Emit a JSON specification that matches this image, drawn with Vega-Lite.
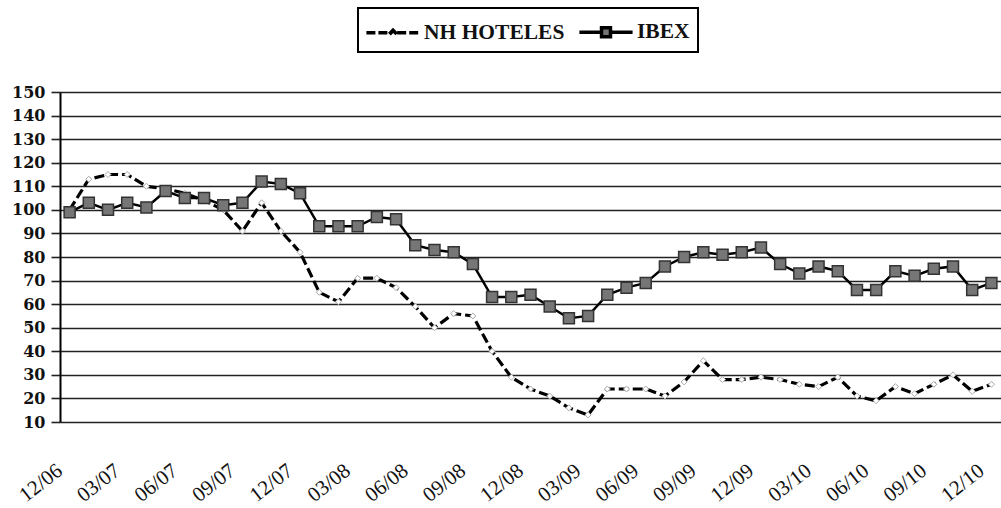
{
  "$schema": "https://vega.github.io/schema/vega-lite/v6.json",
  "width": 941,
  "height": 330,
  "autosize": "none",
  "padding": {"left": 60, "top": 92, "right": 0, "bottom": 86},
  "background": "white",
  "config": {
    "view": {"stroke": null},
    "font": "Liberation Serif",
    "legend": {"strokeWidth": 2}
  },
  "data": {
    "values": [
      {"m":"12/06","s":"NH HOTELES","v":100},{"m":"01/07","s":"NH HOTELES","v":113},{"m":"02/07","s":"NH HOTELES","v":115},{"m":"03/07","s":"NH HOTELES","v":115},
      {"m":"04/07","s":"NH HOTELES","v":110},{"m":"05/07","s":"NH HOTELES","v":109},{"m":"06/07","s":"NH HOTELES","v":107},{"m":"07/07","s":"NH HOTELES","v":104},
      {"m":"08/07","s":"NH HOTELES","v":100},{"m":"09/07","s":"NH HOTELES","v":91},{"m":"10/07","s":"NH HOTELES","v":103},{"m":"11/07","s":"NH HOTELES","v":91},
      {"m":"12/07","s":"NH HOTELES","v":82},{"m":"01/08","s":"NH HOTELES","v":65},{"m":"02/08","s":"NH HOTELES","v":61},{"m":"03/08","s":"NH HOTELES","v":71},
      {"m":"04/08","s":"NH HOTELES","v":71},{"m":"05/08","s":"NH HOTELES","v":67},{"m":"06/08","s":"NH HOTELES","v":59},{"m":"07/08","s":"NH HOTELES","v":50},
      {"m":"08/08","s":"NH HOTELES","v":56},{"m":"09/08","s":"NH HOTELES","v":55},{"m":"10/08","s":"NH HOTELES","v":40},{"m":"11/08","s":"NH HOTELES","v":29},
      {"m":"12/08","s":"NH HOTELES","v":24},{"m":"01/09","s":"NH HOTELES","v":21},{"m":"02/09","s":"NH HOTELES","v":16},{"m":"03/09","s":"NH HOTELES","v":13},
      {"m":"04/09","s":"NH HOTELES","v":24},{"m":"05/09","s":"NH HOTELES","v":24},{"m":"06/09","s":"NH HOTELES","v":24},{"m":"07/09","s":"NH HOTELES","v":21},
      {"m":"08/09","s":"NH HOTELES","v":27},{"m":"09/09","s":"NH HOTELES","v":36},{"m":"10/09","s":"NH HOTELES","v":28},{"m":"11/09","s":"NH HOTELES","v":28},
      {"m":"12/09","s":"NH HOTELES","v":29},{"m":"01/10","s":"NH HOTELES","v":28},{"m":"02/10","s":"NH HOTELES","v":26},{"m":"03/10","s":"NH HOTELES","v":25},
      {"m":"04/10","s":"NH HOTELES","v":29},{"m":"05/10","s":"NH HOTELES","v":21},{"m":"06/10","s":"NH HOTELES","v":19},{"m":"07/10","s":"NH HOTELES","v":25},
      {"m":"08/10","s":"NH HOTELES","v":22},{"m":"09/10","s":"NH HOTELES","v":26},{"m":"10/10","s":"NH HOTELES","v":30},{"m":"11/10","s":"NH HOTELES","v":23},
      {"m":"12/10","s":"NH HOTELES","v":26},
      {"m":"12/06","s":"IBEX","v":99},{"m":"01/07","s":"IBEX","v":103},{"m":"02/07","s":"IBEX","v":100},{"m":"03/07","s":"IBEX","v":103},
      {"m":"04/07","s":"IBEX","v":101},{"m":"05/07","s":"IBEX","v":108},{"m":"06/07","s":"IBEX","v":105},{"m":"07/07","s":"IBEX","v":105},
      {"m":"08/07","s":"IBEX","v":102},{"m":"09/07","s":"IBEX","v":103},{"m":"10/07","s":"IBEX","v":112},{"m":"11/07","s":"IBEX","v":111},
      {"m":"12/07","s":"IBEX","v":107},{"m":"01/08","s":"IBEX","v":93},{"m":"02/08","s":"IBEX","v":93},{"m":"03/08","s":"IBEX","v":93},
      {"m":"04/08","s":"IBEX","v":97},{"m":"05/08","s":"IBEX","v":96},{"m":"06/08","s":"IBEX","v":85},{"m":"07/08","s":"IBEX","v":83},
      {"m":"08/08","s":"IBEX","v":82},{"m":"09/08","s":"IBEX","v":77},{"m":"10/08","s":"IBEX","v":63},{"m":"11/08","s":"IBEX","v":63},
      {"m":"12/08","s":"IBEX","v":64},{"m":"01/09","s":"IBEX","v":59},{"m":"02/09","s":"IBEX","v":54},{"m":"03/09","s":"IBEX","v":55},
      {"m":"04/09","s":"IBEX","v":64},{"m":"05/09","s":"IBEX","v":67},{"m":"06/09","s":"IBEX","v":69},{"m":"07/09","s":"IBEX","v":76},
      {"m":"08/09","s":"IBEX","v":80},{"m":"09/09","s":"IBEX","v":82},{"m":"10/09","s":"IBEX","v":81},{"m":"11/09","s":"IBEX","v":82},
      {"m":"12/09","s":"IBEX","v":84},{"m":"01/10","s":"IBEX","v":77},{"m":"02/10","s":"IBEX","v":73},{"m":"03/10","s":"IBEX","v":76},
      {"m":"04/10","s":"IBEX","v":74},{"m":"05/10","s":"IBEX","v":66},{"m":"06/10","s":"IBEX","v":66},{"m":"07/10","s":"IBEX","v":74},
      {"m":"08/10","s":"IBEX","v":72},{"m":"09/10","s":"IBEX","v":75},{"m":"10/10","s":"IBEX","v":76},{"m":"11/10","s":"IBEX","v":66},
      {"m":"12/10","s":"IBEX","v":69}
    ]
  },
  "encoding": {
    "x": {
      "field": "m", "type": "ordinal", "sort": null,
      "scale": {"type": "point", "padding": 0.5},
      "axis": {
        "title": null, "domain": false, "ticks": false, "grid": false,
        "values": ["12/06","03/07","06/07","09/07","12/07","03/08","06/08","09/08","12/08","03/09","06/09","09/09","12/09","03/10","06/10","09/10","12/10"],
        "labelAngle": -38, "labelAlign": "right", "labelBaseline": "middle",
        "labelPadding": 46, "labelOffset": -10,
        "labelFont": "Liberation Serif", "labelFontSize": 21, "labelColor": "#111"
      }
    },
    "y": {
      "field": "v", "type": "quantitative",
      "scale": {"domain": [10, 150], "nice": false, "zero": false},
      "axis": {
        "title": null, "values": [10,20,30,40,50,60,70,80,90,100,110,120,130,140,150],
        "grid": true, "gridColor": "#222", "gridWidth": 1.6,
        "domain": true, "domainColor": "#000", "domainWidth": 2,
        "ticks": true, "tickSize": 9, "tickColor": "#222", "tickWidth": 1.6,
        "labelPadding": 6, "labelFont": "DejaVu Serif", "labelFontWeight": "bold",
        "labelFontSize": 16, "labelColor": "#111"
      }
    }
  },
  "layer": [
    {
      "transform": [{"filter": "datum.s === 'NH HOTELES'"}],
      "mark": {"type": "line", "color": "#000", "strokeWidth": 3.2, "strokeDash": [10, 4]}
    },
    {
      "transform": [{"filter": "datum.s === 'NH HOTELES'"}],
      "mark": {"type": "point", "shape": "diamond", "size": 36, "filled": true, "fill": "#fff", "stroke": "#aaa", "strokeWidth": 1, "opacity": 1}
    },
    {
      "transform": [{"filter": "datum.s === 'IBEX'"}],
      "mark": {"type": "line", "color": "#000", "strokeWidth": 2.5}
    },
    {
      "transform": [{"filter": "datum.s === 'IBEX'"}],
      "mark": {"type": "point", "shape": "square", "size": 121, "filled": true, "fill": "#767676", "stroke": "#333", "strokeWidth": 1.5, "opacity": 1}
    },
    {
      "mark": {"type": "point", "filled": true, "opacity": 0, "stroke": "#000", "strokeWidth": 3.5},
      "encoding": {
        "shape": {
          "field": "s", "type": "nominal",
          "scale": {"domain": ["NH HOTELES", "IBEX"], "range": [
            "M-1.9,0H-0.3M-0.18,0L0,-0.18L0.18,0L0,0.18ZM0.3,0H1.9",
            "M-1.9,0H-0.32M-0.32,-0.32H0.32V0.32H-0.32ZM0.32,0H1.9"
          ]},
          "legend": {
            "title": null, "orient": "none", "direction": "horizontal",
            "legendX": 298, "legendY": -84,
            "strokeColor": "#000", "padding": 8,
            "symbolSize": 784, "symbolOffset": 11, "symbolOpacity": 1,
            "symbolStrokeColor": "#000", "symbolStrokeWidth": 3.5,
            "labelFont": "Liberation Serif", "labelFontWeight": "bold", "labelFontSize": 21.5,
            "labelColor": "#111", "labelOffset": 15, "columnPadding": 7
          }
        },
        "fill": {
          "field": "s", "type": "nominal",
          "scale": {"domain": ["NH HOTELES", "IBEX"], "range": ["#ffffff", "#767676"]},
          "legend": {"title": null}
        },
        "stroke": {
          "field": "s", "type": "nominal",
          "scale": {"domain": ["NH HOTELES", "IBEX"], "range": ["#000000", "#000000"]},
          "legend": {"title": null}
        },
        "strokeDash": {
          "field": "s", "type": "nominal",
          "scale": {"domain": ["NH HOTELES", "IBEX"], "range": [[9, 3], [1, 0]]},
          "legend": {"title": null}
        }
      }
    }
  ]
}
